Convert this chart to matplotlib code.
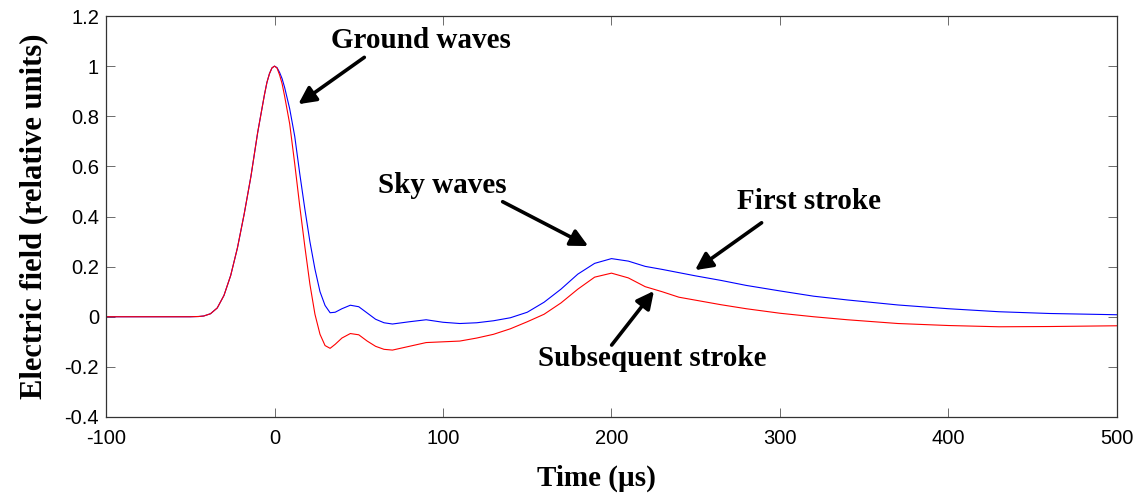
import matplotlib.pyplot as plt
import numpy as np

# time axis (microseconds)
t = [-100, -60, -50, -45, -42, -38, -34, -30, -26, -22, -18, -14, -10, -6,
     -4.5, -3, -1.5, 0,
     1.5, 3, 4.5, 6, 9, 12, 15, 18, 21, 24, 27, 30, 33, 36, 40, 45, 50, 55, 60,
     65, 70, 80, 90, 100, 110, 120, 130, 140, 150, 160, 170, 180, 190, 200,
     210, 220, 230, 240, 250, 265, 280, 300, 320, 340, 370, 400, 430, 460, 500]

rise = [0, 0, 0, 0.001, 0.003, 0.012, 0.035, 0.085, 0.165, 0.275, 0.41, 0.56,
        0.735, 0.885, 0.935, 0.97, 0.993, 1.0]

first_stroke = rise + [
    0.994, 0.975, 0.95, 0.915, 0.83, 0.72, 0.57, 0.43, 0.30, 0.19, 0.10, 0.045,
    0.016, 0.018, 0.032, 0.046, 0.04, 0.015, -0.01, -0.024, -0.029, -0.02,
    -0.012, -0.022, -0.027, -0.024, -0.016, -0.004, 0.018, 0.058, 0.11, 0.17,
    0.213, 0.232, 0.222, 0.201, 0.189, 0.176, 0.163, 0.145, 0.125, 0.103,
    0.082, 0.067, 0.047, 0.032, 0.02, 0.013, 0.008]

subsequent_stroke = rise + [
    0.992, 0.965, 0.93, 0.88, 0.77, 0.61, 0.44, 0.28, 0.13, 0.01, -0.07,
    -0.115, -0.126, -0.11, -0.085, -0.067, -0.072, -0.097, -0.118, -0.13,
    -0.133, -0.118, -0.103, -0.1, -0.097, -0.085, -0.07, -0.048, -0.02, 0.01,
    0.055, 0.11, 0.158, 0.174, 0.155, 0.12, 0.1, 0.078, 0.066, 0.048, 0.032,
    0.014, 0.0, -0.012, -0.027, -0.035, -0.04, -0.039, -0.036]

xticks = [-100, 0, 100, 200, 300, 400, 500]
yticks = [-0.4, -0.2, 0, 0.2, 0.4, 0.6, 0.8, 1, 1.2]
ytick_labels = ['-0.4', '-0.2', '0', '0.2', '0.4', '0.6', '0.8', '1', '1.2']

serif = ['Liberation Serif', 'DejaVu Serif']
sans = ['Liberation Sans', 'DejaVu Sans']

fig = plt.figure(figsize=(11.45, 5.0), dpi=100)
ax = fig.add_axes([0.0926, 0.166, 0.8829, 0.802])

ax.plot(t, first_stroke, color='blue', lw=0.8)
ax.plot(t, subsequent_stroke, color='red', lw=0.8)

ax.set_xlim(-100, 500)
ax.set_ylim(-0.4, 1.2)
ax.set_xticks(xticks)
ax.set_xticklabels([str(v) for v in xticks], family=sans, fontsize=14.5)
ax.set_yticks(yticks)
ax.set_yticklabels(ytick_labels, family=sans, fontsize=14.5)
ax.tick_params(direction='in', length=6.5, width=0.6, color='#555555',
               top=True, right=True)
ax.tick_params(axis='x', pad=9)
ax.tick_params(axis='y', pad=5)
for s in ax.spines.values():
    s.set_linewidth(0.9)
    s.set_color('#333333')

ax.set_xlabel('Time (\u00b5s)', family=serif, fontweight='bold', fontsize=21)
ax.xaxis.set_label_coords(0.485, -0.118)
ax.set_ylabel('Electric field (relative units)', family=serif,
              fontweight='bold', fontsize=22, labelpad=12)

arrow = dict(arrowstyle='-|>', lw=2.6, color='black', mutation_scale=26,
             shrinkA=0, shrinkB=0)
txt = dict(family=serif, fontweight='bold', fontsize=21, ha='center',
           va='baseline')

ax.text(87, 1.071, 'Ground waves', **txt)
ax.annotate('', xy=(14.1, 0.848), xytext=(53.3, 1.035), arrowprops=arrow)

ax.text(99.7, 0.492, 'Sky waves', **txt)
ax.annotate('', xy=(186.2, 0.282), xytext=(135.4, 0.459), arrowprops=arrow)

ax.text(317.5, 0.429, 'First stroke', **txt)
ax.annotate('', xy=(249.6, 0.186), xytext=(289.1, 0.375), arrowprops=arrow)

ax.text(223.9, -0.197, 'Subsequent stroke', **txt)
ax.annotate('', xy=(225.2, 0.103), xytext=(200.1, -0.113), arrowprops=arrow)

fig.savefig('out.png', dpi=100)
